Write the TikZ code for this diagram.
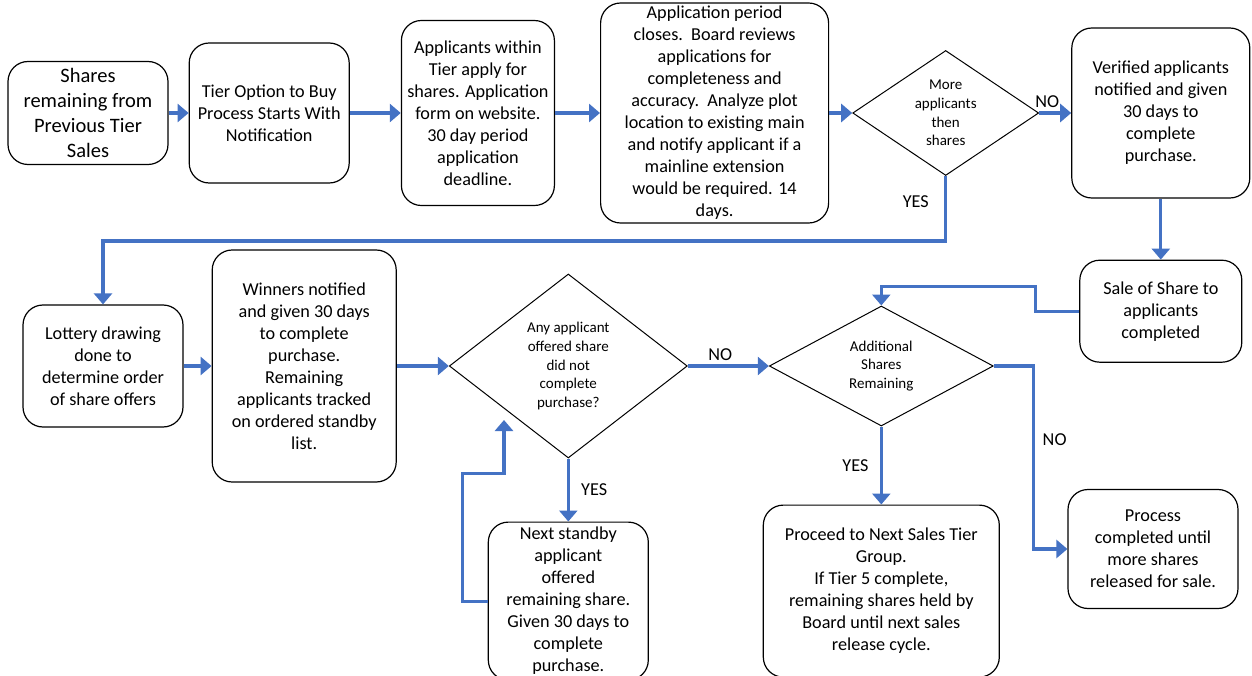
\documentclass[tikz,border=0pt]{standalone}
\usepackage{fontspec}
\setmainfont{Carlito}
\usepackage{tikz}
\usetikzlibrary{
    arrows.meta,
    positioning,
    shapes.geometric
}
\definecolor{flowblue}{HTML}{4472C4}

\begin{document}
\begin{tikzpicture}[
x=1pt, y=-1pt,
box/.style={
draw,
line width=1.2pt,
rounded corners=20pt,
align=center,
inner sep=2pt,
font=\fontsize{18.2}{22}\selectfont
},
decision/.style={
diamond,
draw,
line width=1pt,
inner sep=0pt,
align=center,
font=\fontsize{15}{18.7}\selectfont
},
flow/.style={
draw=flowblue,
line width=3.2pt,
-{Triangle[length=11pt,width=18pt]}
},
answer/.style={
font=\fontsize{18.2}{22}\selectfont
}
]

\useasboundingbox (0,0) rectangle (1252,676);
\clip (0,0) rectangle (1252,676);

\node[box, minimum width=160pt, minimum height=103pt,
font=\fontsize{20.5}{25}\selectfont] (shares) at (88,113)
{Shares\\remaining from\\Previous Tier\\Sales};

\node[box, minimum width=160pt, minimum height=140pt,
right=20pt of shares] (tieropt)
{Tier Option to Buy\\Process Starts With\\Notification};

\node[box, minimum width=153pt, minimum height=185pt,
right=51pt of tieropt] (apply)
{Applicants within\\Tier apply for\\shares. Application\\form on website.\\30 day period\\application\\deadline.};

\node[box, minimum width=228pt, minimum height=220pt,
right=45pt of apply] (close)
{Application period\\closes.\ \ Board reviews\\applications for\\completeness and\\accuracy.\ \ Analyze plot\\location to existing main\\and notify applicant if a\\mainline extension\\would be required. 14\\days.};

\node[decision, minimum width=186pt, minimum height=125pt, aspect=1.49,
right=23pt of close] (more)
{More\\applicants\\then\\shares};

\node[box, minimum width=178pt, minimum height=170pt,
right=32pt of more] (verified)
{Verified applicants\\notified and given\\30 days to\\complete\\purchase.};

\node[box, minimum width=162pt, minimum height=102pt,
below=61pt of verified] (sale)
{Sale of Share to\\applicants\\completed};

\node[box, minimum width=160pt, minimum height=122pt] (lottery) at (103,366)
{Lottery drawing\\done to\\determine order\\of share offers};

\node[box, minimum width=184pt, minimum height=232pt,
right=28pt of lottery] (winners)
{Winners notified\\and given 30 days\\to complete\\purchase.\\Remaining\\applicants tracked\\on ordered standby\\list.};

\node[decision, minimum width=238pt, minimum height=184pt, aspect=1.29,
right=52pt of winners] (any)
{Any applicant\\offered share\\did not\\complete\\purchase?};

\node[box, minimum width=160pt, minimum height=158pt,
below=63pt of any] (standby)
{Next standby\\applicant\\offered\\remaining share.\\Given 30 days to\\complete\\purchase.};

\node[decision, minimum width=224pt, minimum height=120pt, aspect=1.87,
right=81pt of any] (add)
{Additional\\Shares\\Remaining};

\node[box, minimum width=236pt, minimum height=172pt,
below=78pt of add] (proceed)
{Proceed to Next Sales Tier\\Group.\\If Tier 5 complete,\\remaining shares held by\\Board until next sales\\release cycle.};

\node[box, minimum width=170pt, minimum height=119pt] (process) at (1153,549)
{Process\\completed until\\more shares\\released for sale.};

\coordinate (loopin) at (504,420);

\draw[flow] (shares) -- (tieropt);
\draw[flow] (tieropt) -- (apply);
\draw[flow] (apply) -- (close);
\draw[flow] (close) -- (more);

\draw[flow] (more) -- node[answer, above, pos=0.25] {NO} (verified);

\draw[flow] (verified) -- (sale);

\draw[flow] (more.south) -- node[answer, left=12pt, pos=0.4] {YES}
++(0,65) -| (lottery.north);

\draw[flow] (lottery) -- (winners);
\draw[flow] (winners) -- (any);

\draw[flow] (any) -- node[answer, above, pos=0.4] {NO} (add);

\draw[flow] (any) -- node[answer, right=8pt] {YES} (standby);

\draw[flow] (standby.west) -| ++(-25,-128) -| (loopin);

\draw[flow] (sale.west) -- ++(-44,0) -- ++(0,-25) -| (add.north);

\draw[flow] (add) -- node[answer, left=8pt] {YES} (proceed);

\draw[flow] (add.east) -- ++(40,0) |- node[answer, right=4pt, pos=0.2] {NO}
(process.west);

\end{tikzpicture}
\end{document}
